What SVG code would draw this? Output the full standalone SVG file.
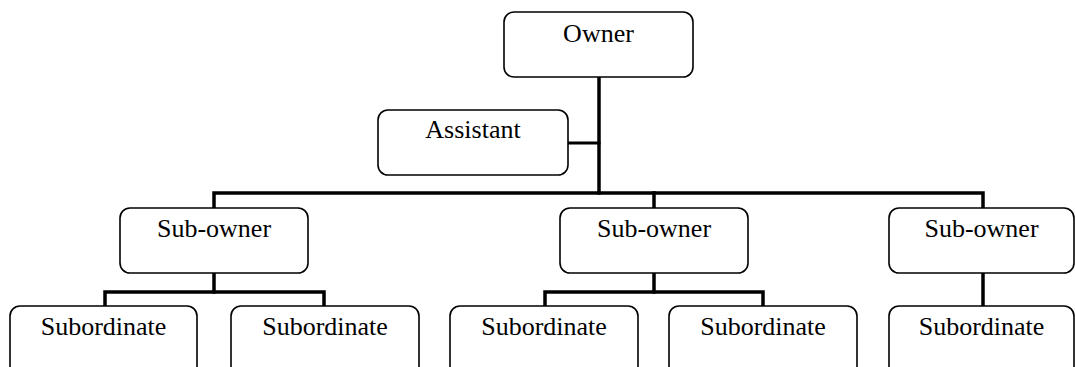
<svg xmlns="http://www.w3.org/2000/svg" width="1075" height="367" viewBox="0 0 1075 367">
  <style>
    .box { fill: #ffffff; stroke: #000000; stroke-width: 1.6; }
    .lbl { font-family: "Liberation Serif", "Times New Roman", serif; font-size: 26px; fill: #000000; text-anchor: middle; }
    .link { fill: none; stroke: #000000; stroke-width: 3.5; stroke-linejoin: miter; stroke-linecap: square; }
  </style>
  <rect width="1075" height="367" fill="#ffffff"/>

  <!-- connectors -->
  <g id="connectors">
    <path class="link" d="M599,78 V193"/>
    <path class="link" d="M569,143 H599" style="stroke-width:3"/>
    <path class="link" d="M214,207 V193 H983 V207"/>
    <path class="link" d="M654,193 V207"/>
    <path class="link" d="M214,274 V292"/>
    <path class="link" d="M105,305 V292 H324 V305"/>
    <path class="link" d="M654,274 V292"/>
    <path class="link" d="M545,305 V292 H763 V305"/>
    <path class="link" d="M983,274 V306"/>
  </g>

  <g id="owner">
    <rect class="box" x="504" y="12" width="189" height="65" rx="10"/>
    <text class="lbl" x="598.5" y="42">Owner</text>
  </g>
  <g id="assistant">
    <rect class="box" x="378" y="110" width="190" height="65" rx="10"/>
    <text class="lbl" x="473" y="138">Assistant</text>
  </g>

  <g id="subowner-1">
    <rect class="box" x="120" y="208" width="188" height="65" rx="10"/>
    <text class="lbl" x="214" y="237">Sub-owner</text>
  </g>
  <g id="subowner-2">
    <rect class="box" x="560" y="208" width="188" height="65" rx="10"/>
    <text class="lbl" x="654" y="237">Sub-owner</text>
  </g>
  <g id="subowner-3">
    <rect class="box" x="889" y="208" width="185" height="65" rx="10"/>
    <text class="lbl" x="981.5" y="237">Sub-owner</text>
  </g>

  <g id="subordinate-1">
    <rect class="box" x="10" y="306" width="187" height="75" rx="10"/>
    <text class="lbl" x="103.5" y="335">Subordinate</text>
  </g>
  <g id="subordinate-2">
    <rect class="box" x="231" y="306" width="188" height="75" rx="10"/>
    <text class="lbl" x="325" y="335">Subordinate</text>
  </g>
  <g id="subordinate-3">
    <rect class="box" x="450" y="306" width="188" height="75" rx="10"/>
    <text class="lbl" x="544" y="335">Subordinate</text>
  </g>
  <g id="subordinate-4">
    <rect class="box" x="669" y="306" width="188" height="75" rx="10"/>
    <text class="lbl" x="763" y="335">Subordinate</text>
  </g>
  <g id="subordinate-5">
    <rect class="box" x="889" y="306" width="185" height="75" rx="10"/>
    <text class="lbl" x="981.5" y="335">Subordinate</text>
  </g>
</svg>
